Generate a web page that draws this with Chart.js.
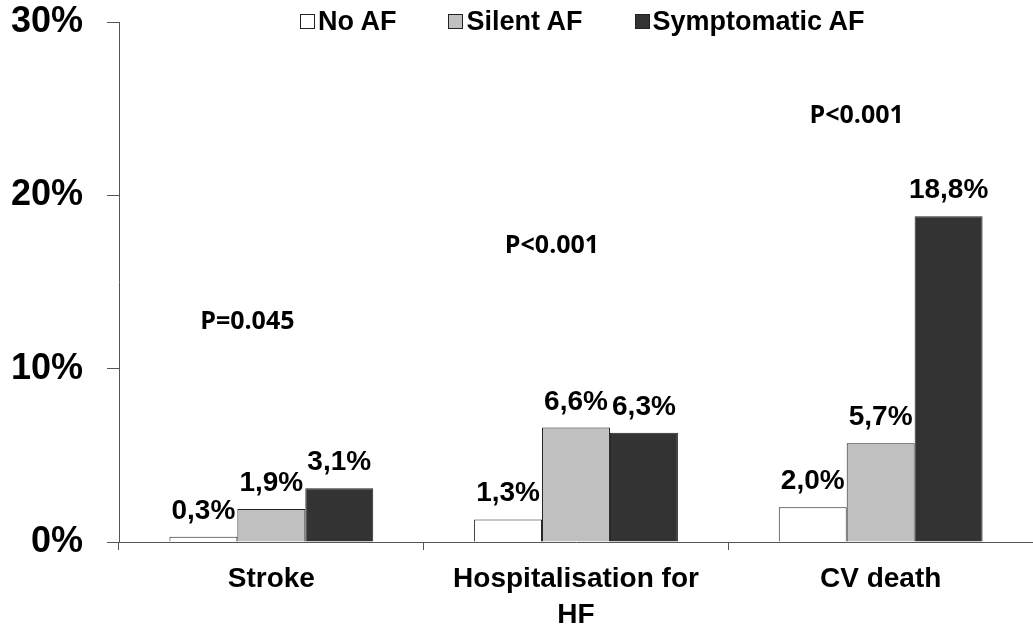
<!DOCTYPE html>
<html>
<head>
<meta charset="utf-8">
<script src="https://cdn.jsdelivr.net/npm/chart.js@4.4.1/dist/chart.umd.min.js"></script>
<style>
  html, body { margin: 0; padding: 0; background: #fff; }
  #wrap { position: relative; width: 1033px; height: 630px; }
  #legend {
    position: absolute; left: 300px; top: 6px;
    display: flex; gap: 52px; align-items: center;
    font: bold 27px "Liberation Sans", Arial, sans-serif; color: #000;
  }
  #legend .item { display: flex; align-items: center; gap: 3px; }
  #legend .box { width: 15px; height: 15px; border: 1px solid #222; box-sizing: border-box; }
</style>
</head>
<body>
<div id="wrap">
  <canvas id="chart" width="1033" height="630"></canvas>
  <div id="legend"></div>
</div>
<script>
// ----------------------------------------------------------------
//  Veriler
// ----------------------------------------------------------------
const categories  = ['Stroke', ['Hospitalisation for', 'HF'], 'CV death'];
const seriesNames = ['No AF', 'Silent AF', 'Symptomatic AF'];
const noAF        = [0.3, 1.3, 2.0];
const silentAF    = [1.9, 6.6, 5.7];
const symptomAF   = [3.1, 6.3, 18.8];
const yTicks      = [0, 10, 20, 30];
const pLabels     = ['P=0.045', 'P<0.001', 'P<0.001'];
const pLevels     = [12.7, 17.1, 24.6];   // y konumu (%)

const colors = ['#ffffff', '#c0c0c0', '#333333'];
const FONT = '"Liberation Sans", Arial, sans-serif';

// ----------------------------------------------------------------
//  HTML legend
// ----------------------------------------------------------------
const legendEl = document.getElementById('legend');
seriesNames.forEach((name, i) => {
  const item = document.createElement('span');
  item.className = 'item';
  item.innerHTML = `<span class="box" style="background:${colors[i]}"></span><span>${name}</span>`;
  legendEl.appendChild(item);
});

// ----------------------------------------------------------------
//  Bar üstü değer etiketleri ve P değerleri
// ----------------------------------------------------------------
const valueLabels = {
  id: 'valueLabels',
  afterDatasetsDraw(chart) {
    const ctx = chart.ctx;
    ctx.save();
    ctx.fillStyle = '#000';
    ctx.font = `bold 28px ${FONT}`;
    ctx.textAlign = 'center';
    ctx.textBaseline = 'alphabetic';
    chart.data.datasets.forEach((ds, di) => {
      chart.getDatasetMeta(di).data.forEach((bar, i) => {
        const txt = ds.data[i].toFixed(1).replace('.', ',') + '%';
        ctx.fillText(txt, bar.x, bar.y - 18);
      });
    });

    // P değerleri
    const x = chart.scales.x, y = chart.scales.y;
    ctx.font = 'bold 25px "Open Sans", "Noto Sans", sans-serif';
    ctx.textBaseline = 'middle';
    pLabels.forEach((p, i) => {
      ctx.fillText(p, x.getPixelForValue(i) - 24, y.getPixelForValue(pLevels[i]));
    });
    ctx.restore();
  }
};

new Chart(document.getElementById('chart'), {
  type: 'bar',
  data: {
    labels: categories,
    datasets: [noAF, silentAF, symptomAF].map((d, i) => ({
      label: seriesNames[i],
      data: d,
      backgroundColor: colors[i],
      borderColor: '#222',
      borderWidth: 1,
      barPercentage: 1,
      categoryPercentage: 0.669
    }))
  },
  options: {
    responsive: false,
    animation: false,
    layout: { padding: { top: 22, right: 0, bottom: 0, left: 0 } },
    plugins: { legend: { display: false }, tooltip: { enabled: false } },
    scales: {
      x: {
        afterFit: s => { s.height = 88; s.paddingLeft = 0; s.paddingRight = 0; },
        grid: { drawOnChartArea: false, tickLength: 8, color: '#555', lineWidth: 1 },
        border: { color: '#555', width: 1 },
        ticks: {
          color: '#000', padding: 11,
          font: { family: FONT, size: 28, weight: 'bold', lineHeight: 1.3 }
        }
      },
      y: {
        min: 0, max: 30,
        afterFit: s => { s.width = 119; s.paddingTop = 0; s.paddingBottom = 0; },
        afterBuildTicks: s => { s.ticks = yTicks.map(v => ({ value: v })); },
        grid: { drawOnChartArea: false, tickLength: 12, color: '#555', lineWidth: 1 },
        border: { color: '#555', width: 1 },
        ticks: {
          color: '#000', padding: 24,
          callback: v => v + '%',
          font: { family: FONT, size: 36, weight: 'bold' }
        }
      }
    }
  },
  plugins: [valueLabels]
});
</script>
</body>
</html>
